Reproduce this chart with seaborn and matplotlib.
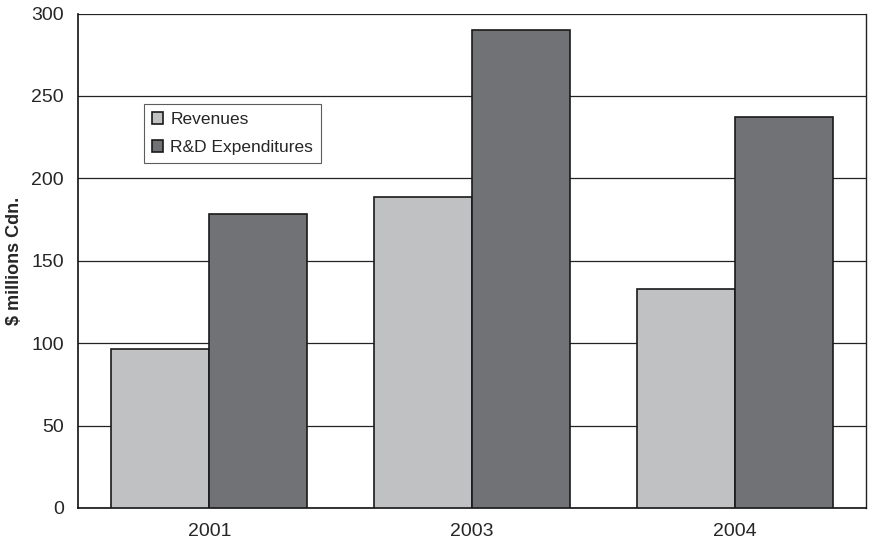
import matplotlib
matplotlib.use("Agg")
import matplotlib.pyplot as plt
import seaborn as sns
import pandas as pd
from matplotlib.ticker import FixedLocator

years = ["2001", "2003", "2004"]
revenues = [96.5, 188.5, 133]
rd_expenditures = [178.5, 290, 237]
series_names = ["Revenues", "R&D Expenditures"]
y_ticks = [0, 50, 100, 150, 200, 250, 300]

df = pd.DataFrame({
    "Year": years * 2,
    "Value": revenues + rd_expenditures,
    "Series": [series_names[0]] * 3 + [series_names[1]] * 3,
})

sns.set_style("white")
plt.rcParams["font.family"] = ["Liberation Sans", "DejaVu Sans"]

fig = plt.figure(figsize=(8.69, 5.42), dpi=100)
ax = fig.add_axes([78 / 869, 1 - 508 / 542, 788 / 869, 494.5 / 542])

sns.barplot(data=df, x="Year", y="Value", hue="Series", order=years,
            hue_order=series_names, palette=["#c0c1c3", "#717276"],
            saturation=1, width=0.746, edgecolor="#1a1a1a", linewidth=1.2,
            ax=ax, zorder=3)

ax.set_ylim(0, 300)
ax.set_xlim(-0.5, 2.5)
ax.set_yticks(y_ticks)
ax.yaxis.grid(True, color="#222222", linewidth=0.9, zorder=0)
ax.set_axisbelow(True)

for s in ["left", "bottom"]:
    ax.spines[s].set_color("#111111")
    ax.spines[s].set_linewidth(1.2)
ax.spines["right"].set_color("#222222")
ax.spines["right"].set_linewidth(1.0)
ax.spines["top"].set_visible(False)

ax.tick_params(axis="y", which="major", direction="out", length=6, width=1,
               color="#111111", labelsize=14, pad=4)
ax.tick_params(axis="x", which="major", length=0, labelsize=14, pad=11)
ax.xaxis.set_minor_locator(FixedLocator([-0.5, 0.5, 1.5, 2.5]))
ax.tick_params(axis="x", which="minor", direction="out", length=6, width=1,
               color="#111111")

ax.set_xlabel("")
ax.set_ylabel("$ millions Cdn.", fontsize=13, fontweight="bold", va="center")
ax.yaxis.set_label_coords(-63 / 788, 0.5)

leg = ax.legend(loc="upper left", bbox_to_anchor=(0.084, 0.816), frameon=True,
                fancybox=False, edgecolor="#333333", fontsize=12.5,
                handlelength=0.65, handleheight=0.65, handletextpad=0.4,
                labelspacing=0.75, borderpad=0.45, borderaxespad=0)
leg.get_frame().set_linewidth(0.8)

fig.savefig("out.png", dpi=100)
